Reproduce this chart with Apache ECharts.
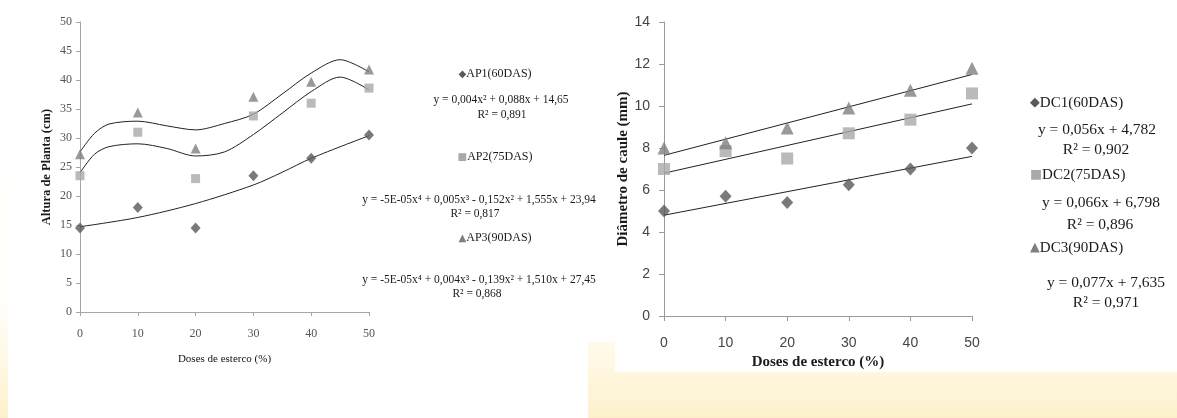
<!DOCTYPE html>
<html><head><meta charset="utf-8">
<script src="https://cdn.jsdelivr.net/npm/echarts@6/dist/echarts.min.js"></script>
<style>html,body{margin:0;padding:0;}#c{width:1177px;height:418px;}</style>
</head><body><div id="c"></div>
<script>
// ---- data ----
const doses = [0, 10, 20, 30, 40, 50];
// Left chart: Altura de Planta (cm)
const ap1 = [14.5, 18, 14.5, 23.5, 26.5, 30.5];
const ap2 = [23.5, 31, 23, 33.8, 36, 38.6];
const ap3 = [27.2, 34.4, 28.2, 37.1, 39.7, 41.8];
// trend curves [x, y]
const ap1Trend = [[0,14.7],[10,16.3],[20,18.7],[30,21.9],[35,24.1],[40,26.5],[50,30.4]];
const ap2Trend = [[0,24],[2.5,27.2],[5,28.5],[10,29.0],[15,28.2],[20,26.9],[25,27.6],[30,30.6],[35,34.3],[40,38],[45,40.5],[50,38.3]];
const ap3Trend = [[0,27.6],[2.5,30.8],[5,32.4],[10,32.9],[15,32.1],[20,31.4],[25,32.5],[30,34.1],[35,37.6],[40,41.2],[45,43.5],[50,41.4]];
// Right chart: Diâmetro de caule (mm)
const dc1 = [5.0, 5.7, 5.4, 6.25, 7.0, 8.0];
const dc2 = [7.0, 7.85, 7.5, 8.7, 9.35, 10.6];
const dc3 = [8.0, 8.25, 8.95, 9.9, 10.75, 11.8];
const dc1Trend = [[0,4.8],[50,7.6]];
const dc2Trend = [[0,6.8],[50,10.1]];
const dc3Trend = [[0,7.65],[50,11.5]];
// texts
const leftNames = ['AP1(60DAS)', 'AP2(75DAS)', 'AP3(90DAS)'];
const leftEqs = ['y = 0,004x² + 0,088x + 14,65', 'y = -5E-05x⁴ + 0,005x³ - 0,152x² + 1,555x + 23,94', 'y = -5E-05x⁴ + 0,004x³ - 0,139x² + 1,510x + 27,45'];
const leftR2 = ['R² = 0,891', 'R² = 0,817', 'R² = 0,868'];
const rightNames = ['DC1(60DAS)', 'DC2(75DAS)', 'DC3(90DAS)'];
const rightEqs = ['y = 0,056x + 4,782', 'y = 0,066x + 6,798', 'y = 0,077x + 7,635'];
const rightR2 = ['R² = 0,902', 'R² = 0,896', 'R² = 0,971'];

// ---- styles ----
const cDia = '#595959', cSq = '#a9a9a9', cTri = '#7f7f7f';
const serif = '"Liberation Serif", "Times New Roman", serif';
const sans = '"Liberation Sans", Arial, sans-serif';
const pair = (xs, ys) => xs.map((x, i) => [x, ys[i]]);

const chart = echarts.init(document.getElementById('c'));

function txt(x, y, text, opt) {
  return {
    type: 'text', x: x, y: y, z: 10,
    style: Object.assign({ text: text, fill: '#1a1a1a', font: '11.5px ' + serif, textAlign: 'center', textVerticalAlign: 'middle' }, opt || {})
  };
}
function legTxt(x, y, sym, col, name, size, align) {
  return {
    type: 'text', x: x, y: y, z: 10,
    style: {
      text: '{s|' + sym + '}' + name,
      textAlign: align, textVerticalAlign: 'middle',
      fill: '#1a1a1a', font: size + 'px ' + serif,
      rich: { s: { fill: col, fontSize: size * 0.85, fontFamily: 'DejaVu Sans' } }
    }
  };
}

const graphics = [
  { type: 'rect', z: -10, silent: true, shape: { x: 0, y: 0, width: 1177, height: 418 },
    style: { fill: new echarts.graphic.LinearGradient(0, 0, 0, 1, [
      { offset: 0, color: '#ffffff' }, { offset: 0.72, color: '#fffefa' }, { offset: 0.85, color: '#fff9e6' }, { offset: 1, color: '#fdf0cc' }]) } },
  { type: 'rect', z: -9, silent: true, shape: { x: 8, y: 0, width: 580, height: 418 }, style: { fill: '#ffffff' } },
  { type: 'rect', z: -9, silent: true, shape: { x: 587, y: 0, width: 30, height: 342 }, style: { fill: '#ffffff' } },
  { type: 'rect', z: -9, silent: true, shape: { x: 615, y: 0, width: 562, height: 372 }, style: { fill: '#ffffff' } },
  // left legend / equations
  legTxt(495, 74, '◆', cDia, leftNames[0], 12, 'center'),
  txt(501, 100, leftEqs[0]),
  txt(502, 115, leftR2[0]),
  legTxt(495, 157, '■', cSq, leftNames[1], 12, 'center'),
  txt(479, 200, leftEqs[1]),
  txt(475, 214, leftR2[1]),
  legTxt(495, 238, '▲', cTri, leftNames[2], 12, 'center'),
  txt(479, 280, leftEqs[2]),
  txt(477, 294, leftR2[2]),
  // right legend / equations
  legTxt(1030, 103, '◆', cDia, rightNames[0], 15, 'left'),
  txt(1097, 130, rightEqs[0], { font: '15.5px ' + serif }),
  txt(1096, 150, rightR2[0], { font: '15.5px ' + serif }),
  legTxt(1030, 175, '■', cSq, rightNames[1], 15, 'left'),
  txt(1101, 203, rightEqs[1], { font: '15.5px ' + serif }),
  txt(1100, 225, rightR2[1], { font: '15.5px ' + serif }),
  legTxt(1030, 248, '▲', cTri, rightNames[2], 15, 'left'),
  txt(1106, 283, rightEqs[2], { font: '15.5px ' + serif }),
  txt(1106, 303, rightR2[2], { font: '15.5px ' + serif })
];

function scatter(name, xi, data, sym, size, col) {
  return { name: name, type: 'scatter', xAxisIndex: xi, yAxisIndex: xi, data: data, symbol: sym, symbolSize: size,
           itemStyle: { color: col }, z: 3, silent: true };
}
function trend(xi, data, smooth) {
  return { type: 'line', xAxisIndex: xi, yAxisIndex: xi, data: data, smooth: smooth, showSymbol: false, symbol: 'none',
           lineStyle: { color: '#222', width: 1 }, z: 2, silent: true };
}

const option = {
  animation: false,
  backgroundColor: 'transparent',
  graphic: graphics,
  grid: [
    { left: 80, top: 22, width: 289, height: 290 },
    { left: 664, top: 22, width: 308, height: 294 }
  ],
  xAxis: [
    { gridIndex: 0, type: 'value', min: 0, max: 50, interval: 10,
      name: 'Doses de esterco (%)', nameLocation: 'middle', nameGap: 42,
      nameTextStyle: { fontFamily: serif, fontSize: 11, color: '#111' },
      axisLine: { lineStyle: { color: '#a6a6a6' } }, axisTick: { length: 4, lineStyle: { color: '#a6a6a6' } },
      axisLabel: { margin: 16, fontFamily: serif, fontSize: 12, color: '#555' }, splitLine: { show: false } },
    { gridIndex: 1, type: 'value', min: 0, max: 50, interval: 10,
      name: 'Doses de esterco (%)', nameLocation: 'middle', nameGap: 38,
      nameTextStyle: { fontFamily: serif, fontSize: 15, fontWeight: 'bold', color: '#1a1a1a' },
      axisLine: { lineStyle: { color: '#9a9a9a' } }, axisTick: { length: 5, lineStyle: { color: '#9a9a9a' } },
      axisLabel: { margin: 20, fontFamily: sans, fontSize: 14, color: '#444' }, splitLine: { show: false } }
  ],
  yAxis: [
    { gridIndex: 0, type: 'value', min: 0, max: 50, interval: 5,
      name: 'Altura de Planta (cm)', nameLocation: 'middle', nameGap: 27, nameRotate: 90,
      nameTextStyle: { fontFamily: serif, fontSize: 12.5, fontWeight: 'bold', color: '#1a1a1a' },
      axisLine: { show: true, lineStyle: { color: '#a6a6a6' } }, axisTick: { show: true, length: 4, lineStyle: { color: '#a6a6a6' } },
      axisLabel: { margin: 8, fontFamily: serif, fontSize: 12, color: '#555' }, splitLine: { show: false } },
    { gridIndex: 1, type: 'value', min: 0, max: 14, interval: 2,
      name: 'Diâmetro de caule (mm)', nameLocation: 'middle', nameGap: 27, nameRotate: 90,
      nameTextStyle: { fontFamily: serif, fontSize: 15, fontWeight: 'bold', color: '#1a1a1a' },
      axisLine: { show: true, lineStyle: { color: '#9a9a9a' } }, axisTick: { show: true, length: 5, lineStyle: { color: '#9a9a9a' } },
      axisLabel: { margin: 14, fontFamily: sans, fontSize: 14, color: '#444' }, splitLine: { show: false } }
  ],
  series: [
    trend(0, ap1Trend, 0.3), trend(0, ap2Trend, 0.3), trend(0, ap3Trend, 0.3),
    scatter('AP1(60DAS)', 0, pair(doses, ap1), 'diamond', [10, 11], cDia),
    scatter('AP2(75DAS)', 0, pair(doses, ap2), 'rect', 9, cSq),
    scatter('AP3(90DAS)', 0, pair(doses, ap3), 'triangle', 10, cTri),
    trend(1, dc1Trend, false), trend(1, dc2Trend, false), trend(1, dc3Trend, false),
    scatter('DC1(60DAS)', 1, pair(doses, dc1), 'diamond', [12, 13], cDia),
    scatter('DC2(75DAS)', 1, pair(doses, dc2), 'rect', 12, cSq),
    scatter('DC3(90DAS)', 1, pair(doses, dc3), 'triangle', 13, cTri)
  ]
};
chart.setOption(option);
</script></body></html>
